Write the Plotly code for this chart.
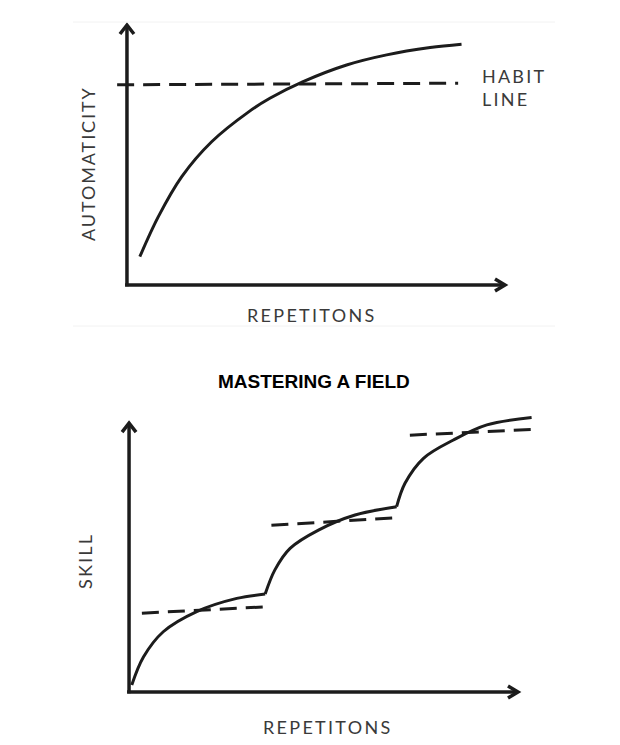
import plotly.graph_objects as go

W, H = 620, 745

# ---------------- Data (arbitrary units, 0-100) ----------------
# Top chart: automaticity vs repetitions
auto_reps = [3.4, 8.3, 14.5, 22.4, 32.1, 37.8, 46.6, 58.1, 68.7, 80.2, 88.5]
auto_vals = [10.9, 26.3, 41.7, 55.1, 66.5, 71.8, 78.2, 84.6, 88.5, 91.3, 92.6]
habit_x = [-2.6, 87.6]
habit_y = [77.0, 77.6]

# Bottom chart: skill vs repetitions (three growth phases)
skill1_x = [0.7, 3.7, 8.8, 17.4, 27.7, 35.0]
skill1_y = [2.6, 13.0, 22.4, 29.9, 34.8, 36.4]
skill2_x = [35.0, 37.5, 41.4, 48.7, 58.1, 68.8]
skill2_y = [36.4, 45.4, 53.4, 60.2, 65.8, 68.9]
skill3_x = [68.8, 70.95, 75.7, 83.4, 92.0, 103.5]
skill3_y = [68.9, 77.6, 86.9, 93.7, 99.3, 102.1]
plateau_x = [[3.3, 35.5], [36.6, 68.9], [72.2, 104.4]]
plateau_y = [[29.3, 31.7], [62.0, 64.8], [95.5, 97.7]]

# Labels
top_xlabel = "REPETITONS"
top_ylabel = "AUTOMATICITY"
habit_label = ["HABIT", "LINE"]
bottom_title = "MASTERING A FIELD"
bottom_xlabel = "REPETITONS"
bottom_ylabel = "SKILL"

# ---------------- Layout geometry ----------------
XR = [-6, 110]
YR = [-6, 106]
top_xdom = [0.1682, 0.8755]
top_ydom = [0.5965, 0.9874]
bot_xdom = [0.1705, 0.8982]
bot_ydom = [0.0495, 0.4538]

INK = "#1c1c1c"
TXT = "#3a3a3a"


def scales(xdom, ydom):
    sx = (xdom[1] - xdom[0]) * W / (XR[1] - XR[0])
    sy = (ydom[1] - ydom[0]) * H / (YR[1] - YR[0])
    return sx, sy


fig = go.Figure()


def add_axes(xa, ya, xdom, ydom):
    sx, sy = scales(xdom, ydom)
    line = dict(color=INK, width=3.5)
    fig.add_trace(go.Scatter(x=[-0.5, 100], y=[0, 0], mode="lines", line=line,
                             xaxis=xa, yaxis=ya, hoverinfo="skip"))
    fig.add_trace(go.Scatter(x=[0, 0], y=[-0.5, 100], mode="lines", line=line,
                             xaxis=xa, yaxis=ya, hoverinfo="skip"))
    # open chevron arrow heads (sized in pixels)
    fig.add_trace(go.Scatter(x=[100 - 10 / sx, 100, 100 - 10 / sx],
                             y=[6 / sy, 0, -6 / sy], mode="lines", line=line,
                             xaxis=xa, yaxis=ya, hoverinfo="skip"))
    fig.add_trace(go.Scatter(x=[-7 / sx, 0, 7 / sx],
                             y=[100 - 9 / sy, 100, 100 - 9 / sy], mode="lines", line=line,
                             xaxis=xa, yaxis=ya, hoverinfo="skip"))


DASH = dict(color=INK, width=3, dash="17px,9px")
CURVE = dict(color=INK, width=3, shape="spline", smoothing=1.0)

# Top chart
add_axes("x", "y", top_xdom, top_ydom)
fig.add_trace(go.Scatter(x=habit_x, y=habit_y, mode="lines", line=DASH,
                         xaxis="x", yaxis="y", hoverinfo="skip"))
fig.add_trace(go.Scatter(x=auto_reps, y=auto_vals, mode="lines", line=CURVE,
                         xaxis="x", yaxis="y", hoverinfo="skip"))

# Bottom chart
add_axes("x2", "y2", bot_xdom, bot_ydom)
for px_, py_ in zip(plateau_x, plateau_y):
    fig.add_trace(go.Scatter(x=px_, y=py_, mode="lines", line=DASH,
                             xaxis="x2", yaxis="y2", hoverinfo="skip"))
for sx_, sy_ in [(skill1_x, skill1_y), (skill2_x, skill2_y), (skill3_x, skill3_y)]:
    fig.add_trace(go.Scatter(x=sx_, y=sy_, mode="lines", line=CURVE,
                             xaxis="x2", yaxis="y2", hoverinfo="skip"))

ax_common = dict(range=XR, visible=False, fixedrange=True)
ay_common = dict(range=YR, visible=False, fixedrange=True)

LBL_FONT = dict(family="Lato, 'Open Sans', sans-serif", size=18, color=TXT)


def spaced(t, ls=2.3):
    return '<span style="letter-spacing:%spx">%s</span>' % (ls, t)


def pann(text, px, py, **kw):
    d = dict(text=text, x=px / W, y=1 - py / H, xref="paper", yref="paper",
             showarrow=False, font=LBL_FONT, xanchor="center", yanchor="middle")
    d.update(kw)
    return d


annotations = [
    pann(spaced(top_xlabel), 312, 315),
    pann(spaced(top_ylabel, 1.9), 88, 164, textangle=-90),
    pann(spaced(habit_label[0], 2.2), 480, 76, xanchor="left"),
    pann(spaced(habit_label[1], 2.2), 480, 99, xanchor="left"),
    pann(bottom_title, 314, 381,
         font=dict(family="Liberation Sans, Arial, sans-serif", size=19,
                   color="#000000", weight="bold")),
    pann(spaced(bottom_xlabel), 328, 727),
    pann(spaced(bottom_ylabel, 2.2), 85, 561, textangle=-90),
]

shapes = [
    dict(type="line", xref="paper", yref="paper", x0=73 / W, x1=555 / W,
         y0=1 - 22 / H, y1=1 - 22 / H, line=dict(color="#f2f2f2", width=1)),
    dict(type="line", xref="paper", yref="paper", x0=73 / W, x1=555 / W,
         y0=1 - 326 / H, y1=1 - 326 / H, line=dict(color="#f2f2f2", width=1)),
]

fig.update_layout(
    width=W, height=H,
    margin=dict(l=0, r=0, t=0, b=0),
    paper_bgcolor="white", plot_bgcolor="rgba(0,0,0,0)",
    showlegend=False,
    xaxis=dict(domain=top_xdom, anchor="y", **ax_common),
    yaxis=dict(domain=top_ydom, anchor="x", **ay_common),
    xaxis2=dict(domain=bot_xdom, anchor="y2", **ax_common),
    yaxis2=dict(domain=bot_ydom, anchor="x2", **ay_common),
    annotations=annotations,
    shapes=shapes,
)

fig.write_html("out.html", config=dict(displayModeBar=False))
